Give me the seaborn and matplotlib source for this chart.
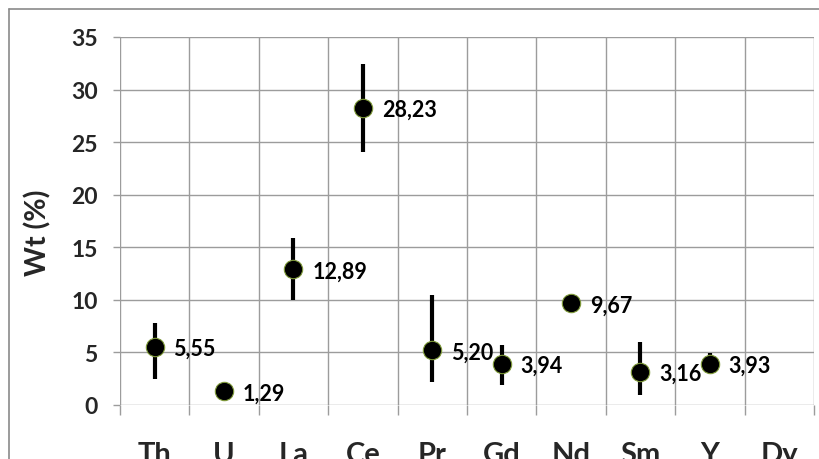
import numpy as np
import pandas as pd
import matplotlib
matplotlib.use("Agg")
import matplotlib.pyplot as plt
from matplotlib.lines import Line2D
import seaborn as sns

# Element concentrations (wt %) with lower / upper spread
elements = ["Th", "U", "La", "Ce", "Pr", "Gd", "Nd", "Sm", "Y", "Dy"]
wt_mean = [5.55, 1.29, 12.89, 28.23, 5.20, 3.94, 9.67, 3.16, 3.93, np.nan]
err_low = [3.08, 0.0, 2.89, 4.17, 2.98, 2.04, 0.0, 2.21, 0.6, np.nan]
err_high = [2.24, 0.0, 2.97, 4.22, 5.25, 1.79, 0.0, 2.85, 1.0, np.nan]
y_ticks = [0, 5, 10, 15, 20, 25, 30, 35]

df = pd.DataFrame({"element": elements, "wt": wt_mean,
                   "lo": err_low, "hi": err_high})
df["pos"] = np.arange(len(df))

sns.set_theme(style="white")
plt.rcParams["font.family"] = ["Lato", "DejaVu Sans"]

fig = plt.figure(figsize=(8.2, 4.6), dpi=100)
ax = fig.add_axes([120 / 820, 1 - 406 / 460, 694 / 820, 368 / 460])

grid_c = "#9c9c9c"

# error bars (no caps)
valid = df.dropna(subset=["wt"])
ax.vlines(valid["pos"], valid["wt"] - valid["lo"], valid["wt"] + valid["hi"],
          colors="black", linewidth=3.0, zorder=3)

# points
sns.scatterplot(data=valid, x="pos", y="wt", ax=ax, s=175, color="black",
                edgecolor="#7f9a3a", linewidth=0.8, zorder=4, legend=False)

# value labels with decimal comma
for _, r in valid.iterrows():
    ax.annotate(f"{r['wt']:.2f}".replace(".", ","), (r["pos"], r["wt"]),
                xytext=(13.5, -1), textcoords="offset points",
                ha="left", va="center", fontsize=15.5, fontweight="bold",
                color="black", zorder=5)

ax.set_xlim(-0.5, len(elements) - 0.5)
ax.set_ylim(0, 35)
ax.set_yticks(y_ticks)
ax.set_yticklabels([str(t) for t in y_ticks], fontsize=16.5, fontweight="bold")
ax.set_xticks(np.arange(len(elements)))
ax.set_xticklabels(elements, fontsize=21, fontweight="bold")
ax.set_xticks(np.arange(len(elements) + 1) - 0.5, minor=True)

ax.tick_params(axis="x", which="major", length=0, pad=26)
ax.tick_params(axis="x", which="minor", length=7.5, width=1.0, color=grid_c,
               direction="out", bottom=True)
ax.tick_params(axis="y", which="major", length=5, width=1.0, color=grid_c,
               direction="out", left=True, pad=11)

ax.grid(True, axis="y", which="major", color=grid_c, linewidth=1.0)
ax.grid(True, axis="x", which="minor", color=grid_c, linewidth=1.0)
ax.grid(False, axis="x", which="major")
for s in ax.spines.values():
    s.set_visible(False)

ax.set_xlabel("")
ax.set_ylabel("Wt (%)", fontsize=20.5, fontweight="bold")
ax.yaxis.set_label_coords(-(120 - 51) / 694, (406 - 233) / 368)

# outer chart frame
fx = 8.5 / 820
fy = 1 - 9.5 / 460
fig.add_artist(Line2D([fx, fx], [0, fy], transform=fig.transFigure,
                      color="#8a8a8a", linewidth=1.2))
fig.add_artist(Line2D([fx, 1], [fy, fy], transform=fig.transFigure,
                      color="#8a8a8a", linewidth=1.2))

fig.savefig("out.png", dpi=100)
